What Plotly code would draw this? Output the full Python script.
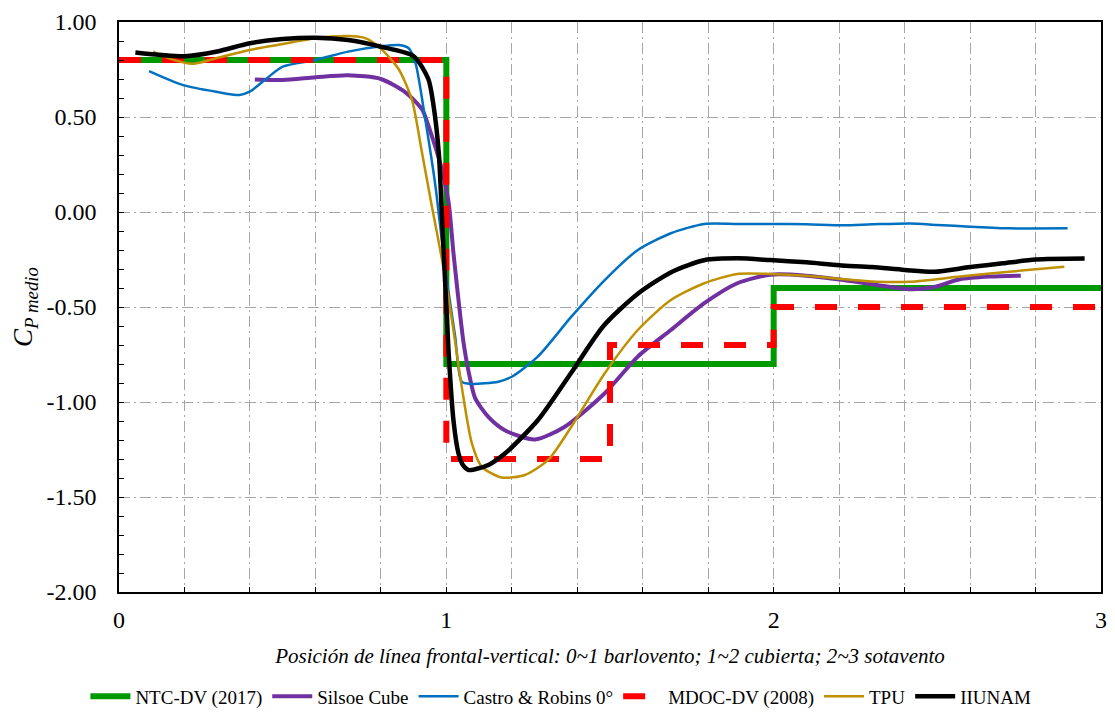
import plotly.graph_objects as go

# ---- data ----
ntc_x = [0, 1, 1, 2, 2, 3]
ntc_y = [0.8, 0.8, -0.8, -0.8, -0.4, -0.4]

mdoc_x = [0, 1, 1, 1.5, 1.5, 2, 2, 3]
mdoc_y = [0.8, 0.8, -1.3, -1.3, -0.7, -0.7, -0.5, -0.5]

silsoe_x = [0.415, 0.5, 0.6, 0.7, 0.8, 0.875, 0.926, 0.946, 0.987, 1.007, 1.022, 1.037, 1.052, 1.068, 1.088,
            1.129, 1.18, 1.271, 1.362, 1.484, 1.585, 1.686, 1.788, 1.889, 1.99, 2.1, 2.214, 2.315,
            2.417, 2.488, 2.569, 2.66, 2.755]
silsoe_y = [0.698, 0.695, 0.709, 0.72, 0.70, 0.63, 0.54, 0.45, 0.22, 0.05, -0.22, -0.46, -0.68, -0.84, -0.98,
            -1.08, -1.15, -1.197, -1.13, -0.954, -0.761, -0.621, -0.48, -0.375, -0.33, -0.335, -0.358, -0.384,
            -0.407, -0.396, -0.354, -0.34, -0.335]

castro_x = [0.092, 0.196, 0.297, 0.368, 0.399, 0.449, 0.5, 0.6, 0.7, 0.8, 0.855, 0.885, 0.906, 0.936,
            0.967, 0.997, 1.027, 1.047, 1.078, 1.159, 1.2, 1.28, 1.382, 1.484, 1.585, 1.686, 1.788,
            1.889, 1.99, 2.1, 2.214, 2.3, 2.417, 2.5, 2.6, 2.72, 2.898]
castro_y = [0.742, 0.668, 0.633, 0.616, 0.633, 0.70, 0.765, 0.80, 0.844, 0.872, 0.879, 0.862, 0.782, 0.484,
            0.133, -0.305, -0.656, -0.893, -0.905, -0.893, -0.867, -0.76, -0.551, -0.358, -0.20, -0.112, -0.063,
            -0.063, -0.063, -0.065, -0.07, -0.065, -0.06, -0.068, -0.077, -0.086, -0.086]

tpu_x = [0.104, 0.15, 0.226, 0.297, 0.399, 0.5, 0.6, 0.7, 0.754, 0.8, 0.855, 0.895, 0.926, 0.956, 0.987,
         1.017, 1.047, 1.078, 1.108, 1.169, 1.24, 1.311, 1.382, 1.484, 1.585, 1.686, 1.788, 1.889, 1.99,
         2.1, 2.214, 2.315, 2.417, 2.569, 2.72, 2.888]
tpu_y = [0.844, 0.81, 0.78, 0.809, 0.853, 0.884, 0.914, 0.926, 0.914, 0.86, 0.75, 0.59, 0.309, 0.028, -0.253,
         -0.568, -0.919, -1.218, -1.34, -1.397, -1.384, -1.305, -1.13, -0.849, -0.621, -0.463, -0.375, -0.326, -0.326,
         -0.335, -0.354, -0.367, -0.367, -0.34, -0.314, -0.288]

iiunam_x = [0.05, 0.2, 0.3, 0.4, 0.5, 0.6, 0.7, 0.8, 0.9, 0.945, 0.96, 0.977, 0.987, 0.997, 1.007, 1.022,
            1.037, 1.05, 1.068, 1.088, 1.13, 1.18, 1.28, 1.38, 1.48, 1.585, 1.69, 1.79, 1.89, 1.99, 2.1,
            2.2, 2.3, 2.4, 2.49, 2.6, 2.7, 2.8, 2.95]
iiunam_y = [0.84, 0.82, 0.845, 0.888, 0.91, 0.917, 0.905, 0.87, 0.82, 0.70, 0.57, 0.31, -0.04, -0.39, -0.74, -1.10,
            -1.27, -1.33, -1.358, -1.354, -1.33, -1.27, -1.095, -0.85, -0.60, -0.43, -0.314, -0.253, -0.244, -0.253, -0.265,
            -0.28, -0.29, -0.305, -0.315, -0.29, -0.27, -0.25, -0.245]

x_tickvals = [0, 1, 2, 3]
x_ticktext = ["0", "1", "2", "3"]
y_tickvals = [1.0, 0.5, 0.0, -0.5, -1.0, -1.5, -2.0]
y_ticktext = ["1.00", "0.50", "0.00", "-0.50", "-1.00", "-1.50", "-2.00"]

FONT = "Liberation Serif"
GRID = "#A6A6A6"
GRIDDASH = "11px,4px,2px,4px"

fig = go.Figure()
fig.add_trace(go.Scatter(x=ntc_x, y=ntc_y, mode="lines", name="NTC-DV (2017)",
                         line=dict(color="#009A00", width=6)))
fig.add_trace(go.Scatter(x=silsoe_x, y=silsoe_y, mode="lines", name="Silsoe Cube",
                         line=dict(color="#7030A0", width=4, shape="spline", smoothing=0.7)))
fig.add_trace(go.Scatter(x=castro_x, y=castro_y, mode="lines", name="Castro & Robins 0°",
                         line=dict(color="#0070C0", width=2.5, shape="spline", smoothing=0.7)))
fig.add_trace(go.Scatter(x=mdoc_x, y=mdoc_y, mode="lines", name="MDOC-DV (2008)",
                         line=dict(color="#FF0000", width=6, dash="22px,21px")))
fig.add_trace(go.Scatter(x=tpu_x, y=tpu_y, mode="lines", name="TPU",
                         line=dict(color="#BF9000", width=2.5, shape="spline", smoothing=0.7)))
fig.add_trace(go.Scatter(x=iiunam_x, y=iiunam_y, mode="lines", name="IIUNAM",
                         line=dict(color="#000000", width=4.5, shape="spline", smoothing=0.7)))

fig.update_layout(
    width=1099, height=705,
    margin=dict(l=111, r=6, t=14, b=121, autoexpand=False),
    paper_bgcolor="white", plot_bgcolor="white",
    font=dict(family=FONT, color="black"),
    showlegend=True,
    legend=dict(orientation="h", x=0.45, xanchor="center", y=-0.183, yanchor="middle",
                font=dict(family=FONT, size=19, color="black"), traceorder="normal",
                itemwidth=40),
)
fig.update_xaxes(
    range=[0, 3], tickmode="array", tickvals=x_tickvals, ticktext=x_ticktext,
    showgrid=True, gridcolor=GRID, griddash=GRIDDASH, gridwidth=1,
    showline=True, linecolor="black", linewidth=2, mirror=True,
    ticks="inside", ticklen=5, tickcolor="black",
    minor=dict(dtick=0.2, tick0=0, ticks="inside", ticklen=5, tickcolor="black",
               showgrid=True, gridcolor=GRID, griddash=GRIDDASH, gridwidth=1),
    tickfont=dict(family=FONT, size=24, color="black"), ticklabelstandoff=5,
    zeroline=False, automargin=False,
    title=dict(text="<i>Posición de línea frontal-vertical: 0~1 barlovento; 1~2 cubierta; 2~3 sotavento</i>",
               font=dict(family=FONT, size=21, color="black"), standoff=17),
)
fig.update_yaxes(
    range=[-2, 1], tickmode="array", tickvals=y_tickvals, ticktext=y_ticktext,
    showgrid=True, gridcolor=GRID, griddash=GRIDDASH, gridwidth=1,
    showline=True, linecolor="black", linewidth=1.5, mirror=True,
    ticks="inside", ticklen=5, tickcolor="black",
    minor=dict(dtick=0.1, tick0=0, ticks="inside", ticklen=5, tickcolor="black", showgrid=False),
    tickfont=dict(family=FONT, size=24, color="black"), ticklabelstandoff=16,
    zeroline=False, automargin=False,
    title=dict(text="<i>C</i><sub><i>P medio</i></sub>",
               font=dict(family=FONT, size=27, color="black"), standoff=8),
)

fig.write_html("out.html")
